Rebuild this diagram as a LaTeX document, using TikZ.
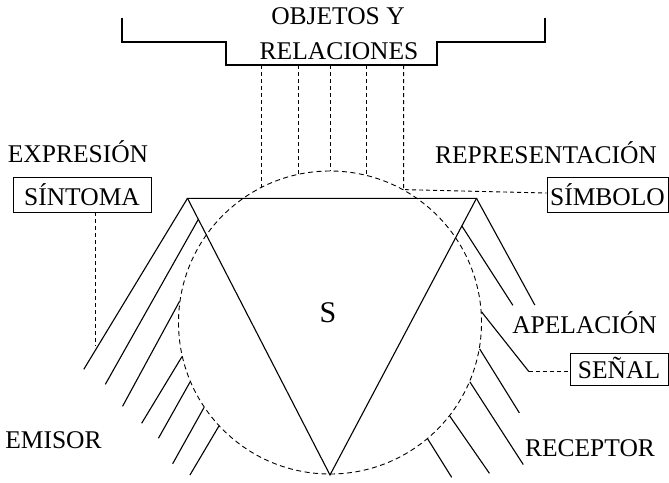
\documentclass[tikz,border=0pt]{standalone}
\usepackage{fontspec}
\setmainfont{Liberation Serif}
\usetikzlibrary{calc}
\begin{document}
\begin{tikzpicture}[x=1pt,y=-1pt,
  solid line/.style={line width=1.1pt},
  dsh/.style={line width=0.9pt, dash pattern=on 4pt off 3pt},
  lbl/.style={font=\fontsize{25.5}{30}\selectfont, inner sep=0pt, anchor=base},
  tag/.style={draw, line width=0.9pt, font=\fontsize{25.5}{30}\selectfont,
              inner sep=0pt, text depth=0pt}]
\useasboundingbox (0,0) rectangle (669,482);

% circle of the sign phenomenon
\node[circle, draw, line width=0.9pt, dash pattern=on 5pt off 3.5pt,
      minimum size=303pt, inner sep=0pt] (C) at (330,322.5) {};

% triangle
\coordinate (A) at (187.5,198.3);
\coordinate (B) at (476.5,198.3);
\coordinate (V) at (330,475);
\draw[solid line, line join=miter] (A) -- (B) -- (V) -- cycle;
\node[font=\fontsize{30}{34}\selectfont, inner sep=0pt, anchor=base] (S) at (328,322) {S};

% bracket for objects and relations
\coordinate (brk) at (331,65);
\draw[solid line] (122,18) -- (122,42) -- (226,42) -- (226,65) -- (437,65) -- (437,42) -- (545,42) -- (545,18);
\node[lbl] (obj) at (338,24) {OBJETOS Y};
\node[lbl] (rel) at (339,59) {RELACIONES};

% labels
\node[lbl] (expr) at (78,162) {EXPRESIÓN};
\node[lbl] (repr) at (546,163) {REPRESENTACIÓN};
\node[lbl] (emi) at (53.5,448) {EMISOR};
\node[lbl] (apel) at (584.5,333) {APELACIÓN};
\node[lbl] (rec) at (590,456) {RECEPTOR};

% boxed labels
\node[tag, minimum width=138pt, minimum height=35pt, text height=21pt] (stm) at (82,194.5) {SÍNTOMA};
\node[tag, minimum width=121pt, minimum height=35pt, text height=21pt] (sym) at (607.5,194.5) {SÍMBOLO};
\node[tag, minimum width=98pt, minimum height=32pt, text height=18pt] (sen) at (619,369) {SEÑAL};

% dashed links to the objects and relations
\draw[dsh] (C.117 |- brk) -- (C.117);
\draw[dsh] (C.102 |- brk) -- (C.102);
\draw[dsh] (C.90 |- brk) -- (C.90);
\draw[dsh] (C.76 |- brk) -- (C.76);
\draw[dsh] (C.61 |- brk) -- (C.61) -- ([yshift=1.5pt]sym.west);

% dashed link from the symptom box
\coordinate (e1) at (95,346);
\draw[dsh] (e1 |- stm.south) -- (e1);

% sender side lines
\draw[solid line] (A) -- ++(-103.7,171);
\draw[solid line] ($(A)!0.076!(V)$) -- ++(-93,165);
\draw[solid line] (C.172) -- ++(-57,105);
\draw[solid line] (C.193) -- ++(-40.3,66.6);
\draw[solid line] (C.203) -- ++(-31.7,56.4);
\draw[solid line] (C.214) -- ++(-31.4,56.3);
\draw[solid line] (C.223) -- ++(-29,49);

% receiver side lines
\draw[solid line] (B) -- ++(58.3,106.7);
\draw[solid line] ($(B)!0.10!(V)$) -- ++(51,79.3);
\draw[solid line] (C.4) -- ++(47.3,59.7) coordinate (s1);
\draw[dsh] (s1) -- (s1 -| sen.west);
\draw[solid line] (C.-10) -- ++(39.7,64);
\draw[solid line] (C.-23) -- ++(53.4,82.7);
\draw[solid line] (C.-38) -- ++(39.7,57.3);
\draw[solid line] (C.-50) -- ++(24,38.4);
\end{tikzpicture}
\end{document}
